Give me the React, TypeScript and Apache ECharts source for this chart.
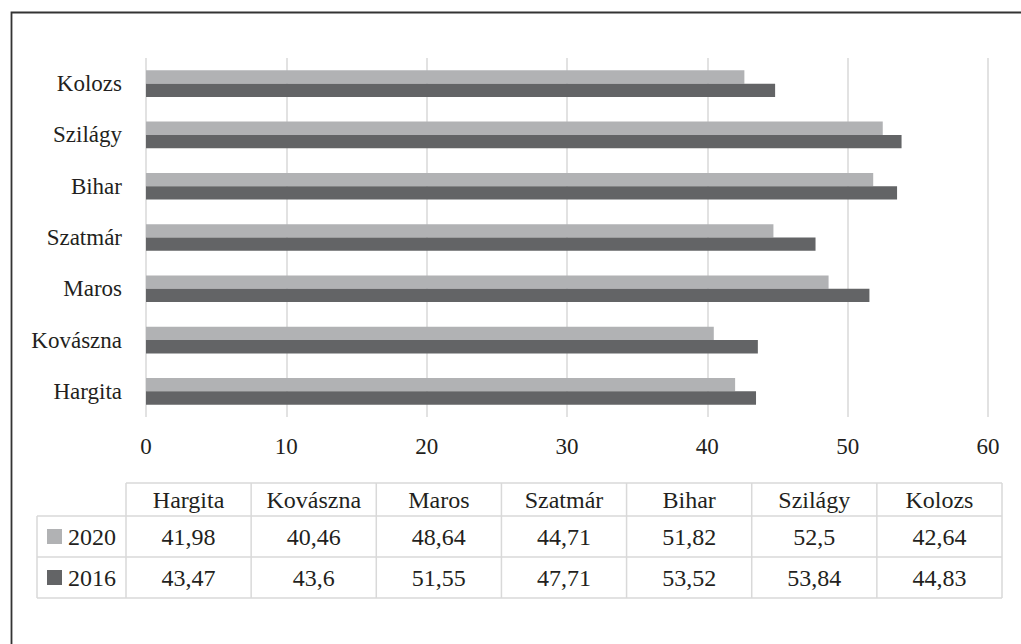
import React, { useEffect, useRef } from "react";
import * as echarts from "echarts";

const categories = ["Hargita", "Kovászna", "Maros", "Szatmár", "Bihar", "Szilágy", "Kolozs"];
const seriesNames = ["2020", "2016"];
const values2020 = [41.98, 40.46, 48.64, 44.71, 51.82, 52.5, 42.64];
const values2016 = [43.47, 43.6, 51.55, 47.71, 53.52, 53.84, 44.83];
const xMin = 0;
const xMax = 60;
const xInterval = 10;

const FONT = "Liberation Serif";
const TEXT = "#231f20";
const LIGHT = "#b1b2b4";
const DARK = "#636466";
const GRID = "#d9d9d9";

const fmt = (v: number) => String(v).replace(".", ",");

export default function App() {
  const ref = useRef<HTMLDivElement>(null);
  useEffect(() => {
    if (!ref.current) return;
    const chart = echarts.init(ref.current, undefined, { renderer: "svg" });

    const tLeft = 37;
    const tLabelRight = 126;
    const tRight = 1002;
    const rowY = [483, 516, 557, 598];
    const colW = (tRight - tLabelRight) / categories.length;
    const lineStyle = { stroke: GRID, lineWidth: 1.5 };
    const g: any[] = [];
    g.push({
      type: "rect",
      shape: { x: 11.5, y: 12.5, width: 1100, height: 700 },
      style: { fill: "none", stroke: "#333333", lineWidth: 1.8 },
      silent: true,
    });
    g.push({ type: "line", shape: { x1: tLabelRight, y1: rowY[0], x2: tRight, y2: rowY[0] }, style: lineStyle });
    for (let i = 1; i < rowY.length; i++) {
      g.push({ type: "line", shape: { x1: tLeft, y1: rowY[i], x2: tRight, y2: rowY[i] }, style: lineStyle });
    }
    g.push({ type: "line", shape: { x1: tLeft, y1: rowY[1], x2: tLeft, y2: rowY[3] }, style: lineStyle });
    for (let c = 0; c <= categories.length; c++) {
      const x = tLabelRight + c * colW;
      g.push({ type: "line", shape: { x1: x, y1: rowY[0], x2: x, y2: rowY[3] }, style: lineStyle });
    }
    const txt = (x: number, y: number, t: string, align = "center") => ({
      type: "text",
      x,
      y,
      style: {
        text: t,
        font: `24px '${FONT}'`,
        fill: TEXT,
        align,
        verticalAlign: "middle",
      },
    });
    categories.forEach((c, i) => {
      const cx = tLabelRight + colW * (i + 0.5);
      g.push(txt(cx, (rowY[0] + rowY[1]) / 2, c));
      g.push(txt(cx, (rowY[1] + rowY[2]) / 2, fmt(values2020[i])));
      g.push(txt(cx, (rowY[2] + rowY[3]) / 2, fmt(values2016[i])));
    });
    const legendColors = [LIGHT, DARK];
    seriesNames.forEach((n, i) => {
      const cy = (rowY[i + 1] + rowY[i + 2]) / 2;
      g.push({ type: "rect", shape: { x: 47, y: cy - 7.5, width: 15, height: 15 }, style: { fill: legendColors[i] } });
      g.push(txt(68, cy, n, "left"));
    });

    chart.setOption({
      animation: false,
      grid: { left: 146, right: 33, top: 58, bottom: 227, containLabel: false },
      xAxis: {
        type: "value",
        min: xMin,
        max: xMax,
        interval: xInterval,
        axisLine: { show: false },
        axisTick: { show: false },
        splitLine: { show: true, lineStyle: { color: GRID, width: 1.5 } },
        axisLabel: { color: TEXT, fontSize: 23, fontFamily: FONT, margin: 18 },
      },
      yAxis: {
        type: "category",
        data: categories,
        axisLine: { show: false },
        axisTick: { show: false },
        axisLabel: { color: TEXT, fontSize: 23, fontFamily: FONT, margin: 24 },
      },
      series: [
        {
          name: seriesNames[0],
          type: "bar",
          data: values2020,
          itemStyle: { color: LIGHT },
          barGap: "0%",
          barCategoryGap: "48%",
        },
        {
          name: seriesNames[1],
          type: "bar",
          data: values2016,
          itemStyle: { color: DARK },
          barGap: "0%",
          barCategoryGap: "48%",
        },
      ],
      graphic: g,
    });
    return () => chart.dispose();
  }, []);
  return (
    <div
      ref={ref}
      style={{ position: "fixed", left: 0, top: 0, width: 1021, height: 644, background: "#fff" }}
    />
  );
}
